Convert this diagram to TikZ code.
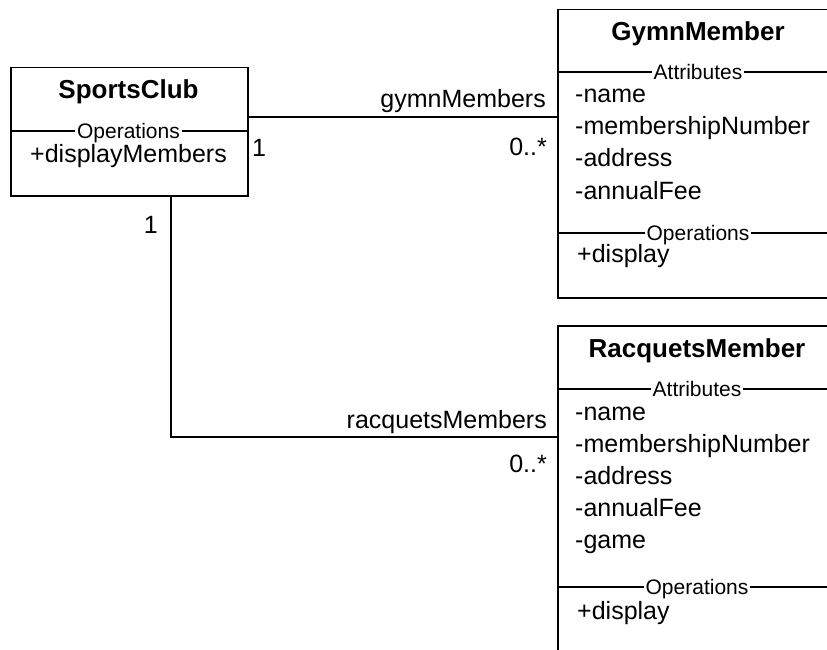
\documentclass[tikz,border=0pt]{standalone}
\usepackage{fontspec}
\setmainfont{Liberation Sans}
\begin{document}
\begin{tikzpicture}[x=1pt,y=-1pt,
  box/.style={draw, line width=1.5pt, rectangle, anchor=north west, inner sep=0},
  title/.style={font=\fontsize{26}{30}\selectfont\bfseries, anchor=base, inner sep=0},
  txt/.style={font=\fontsize{25}{30}\selectfont, anchor=base west, inner sep=0},
  lbl/.style={font=\fontsize{25}{30}\selectfont, anchor=base east, inner sep=0},
  sec/.style={font=\fontsize{21}{25}\selectfont, anchor=base, fill=white, inner xsep=2pt, inner ysep=0},
  sepline/.style={line width=1.5pt},
  conn/.style={line width=1.5pt}]
\useasboundingbox (0,0) rectangle (827,650);
\clip (0,0) rectangle (827,650);
% SportsClub
\node[box, minimum width=237, minimum height=128] (sc) at (10,67) {};
\node[title] (sctitle) at (128.5,99) {SportsClub};
\coordinate (scsep) at (0,131);
\draw[sepline] (sc.west |- scsep) -- (sc.east |- scsep);
\node[sec] (scops) at (128.5,138.5) {Operations};
\node[txt] (scop1) at (30,162) {+displayMembers};
% GymnMember
\node[box, minimum width=282, minimum height=288] (gym) at (557,9) {};
\node[title] (gymtitle) at (698,41) {GymnMember};
\coordinate (gsep1) at (0,72);
\coordinate (gsep2) at (0,233);
\draw[sepline] (gym.west |- gsep1) -- (gym.east |- gsep1);
\draw[sepline] (gym.west |- gsep2) -- (gym.east |- gsep2);
\node[sec] (gymatt) at (698,79.5) {Attributes};
\node[sec] (gymops) at (698,240.5) {Operations};
\node[txt] (ga1) at (575,103) {-name};
\node[txt] (ga2) at (575,135) {-membershipNumber};
\node[txt] (ga3) at (575,167) {-address};
\node[txt] (ga4) at (575,199) {-annualFee};
\node[txt] (go1) at (577,262) {+display};
% RacquetsMember
\node[box, minimum width=282, minimum height=360] (rac) at (557,325) {};
\node[title] (ractitle) at (697,357) {RacquetsMember};
\coordinate (rsep1) at (0,389);
\coordinate (rsep2) at (0,587);
\draw[sepline] (rac.west |- rsep1) -- (rac.east |- rsep1);
\draw[sepline] (rac.west |- rsep2) -- (rac.east |- rsep2);
\node[sec] (racatt) at (697,396.5) {Attributes};
\node[sec] (racops) at (697,594.5) {Operations};
\node[txt] (ra1) at (575,420) {-name};
\node[txt] (ra2) at (575,452) {-membershipNumber};
\node[txt] (ra3) at (575,484) {-address};
\node[txt] (ra4) at (575,516) {-annualFee};
\node[txt] (ra5) at (575,548) {-game};
\node[txt] (ro1) at (577,619) {+display};
% connectors
\coordinate (gA) at (557,117);
\draw[conn] (sc.east |- gA) -- (gA);
\coordinate (rB) at (171,0);
\coordinate (rA) at (557,437);
\draw[conn] (sc.south -| rB) |- (rA);
% labels
\node[lbl] (l1) at (546,108) {gymnMembers};
\node[txt] (l2) at (252,157) {1};
\node[lbl] (l3) at (547,155) {0..*};
\node[lbl] (l4) at (158,233) {1};
\node[lbl] (l5) at (547,428) {racquetsMembers};
\node[lbl] (l6) at (547,472) {0..*};
\end{tikzpicture}
\end{document}
